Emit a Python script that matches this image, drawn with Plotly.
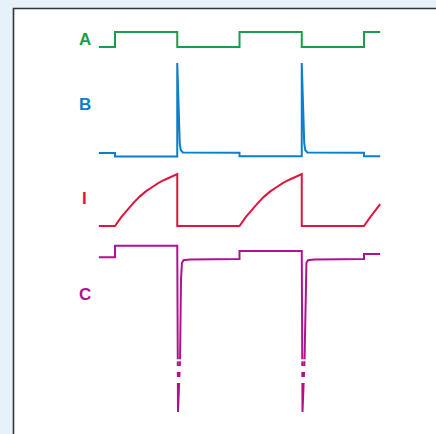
import plotly.graph_objects as go

# ---- time axis: one unit = half a period of the square drive A ----
# ---- A: square drive (hv steps) ----
t_a = [-0.26, 0, 1, 2, 3, 4, 4.26]
a_vals = [0, 1, 0, 1, 0, 1, 1]

# ---- B: small offset steps plus a sharp spike at each falling edge of A ----
t_b = [-0.26, 0, 0, 1, 1, 1.016, 1.032, 1.04, 1.056, 1.09, 2, 2, 3, 3,
       3.016, 3.032, 3.04, 3.056, 3.09, 4, 4, 4.26]
b_vals = [0, 0, -0.039, -0.039, 1.0, 0.64, 0.31, 0.11, 0.033, 0.006, 0.004,
          -0.036, -0.036, 1.0, 0.64, 0.31, 0.11, 0.033, 0.006, 0.003, -0.035, -0.035]

# ---- I: charging curve while A is high, reset to zero at the falling edge ----
t_i = [-0.26, 0, 0.1, 0.2, 0.3, 0.4, 0.5, 0.6, 0.7, 0.8, 0.9, 1.0, 1.0,
       2, 2.1, 2.2, 2.3, 2.4, 2.5, 2.6, 2.7, 2.8, 2.9, 3.0, 3.0,
       4, 4.1, 4.2, 4.26]
i_vals = [0, 0, 0.17, 0.32, 0.45, 0.57, 0.67, 0.75, 0.83, 0.89, 0.95, 1.0, 0,
          0, 0.17, 0.32, 0.45, 0.57, 0.67, 0.75, 0.83, 0.89, 0.95, 1.0, 0,
          0, 0.17, 0.32, 0.42]

# ---- C: adapting plateau with a large negative spike at each falling edge ----
t_c = [-0.26, 0, 0, 1, 1.012, 1.045, 1.06, 1.075, 1.1, 1.2, 2, 2, 3,
       3.012, 3.045, 3.06, 3.075, 3.1, 3.2, 4, 4, 4.26]
c_vals = [0.07, 0.07, 1.23, 1.23, -15.4, -10.2, -2.2, -0.5, -0.22, -0.15, -0.1,
          0.7, 0.7, -15.4, -10.2, -2.2, -0.5, -0.22, -0.15, -0.1, 0.4, 0.4]

labels = ["A", "B", "I", "C"]
colors = ["#1b9e4b", "#0b7fc7", "#e0143c", "#b0128c"]

W, H = 436, 434

# x axis: first rising edge at 115 px, 62.25 px per unit
X0_PX, X_SCALE = 115, 62.25
x_range = [-X0_PX / X_SCALE, (W - X0_PX) / X_SCALE]

# per-trace vertical placement: (pixel of value 0, pixels per unit)
placement = {"A": (47, 15), "B": (153, 90), "I": (226, 52), "C": (258, 10)}


def y_range(p0, s):
    top = p0 / s
    return [top - H / s, top]


fig = go.Figure()
series = {
    "A": (t_a, a_vals, "hv"),
    "B": (t_b, b_vals, "linear"),
    "I": (t_i, i_vals, "linear"),
    "C": (t_c, c_vals, "linear"),
}
for k, (name, color) in enumerate(zip(labels, colors), start=1):
    tx, ty, shape = series[name]
    fig.add_trace(go.Scatter(
        x=tx, y=ty, mode="lines", name=name,
        line=dict(color=color, width=2, shape=shape),
        yaxis="y" if k == 1 else f"y{k}",
        hoverinfo="skip", showlegend=False,
    ))

axis_common = dict(visible=False, showgrid=False, zeroline=False, fixedrange=True)
layout_axes = {}
for k, name in enumerate(labels, start=1):
    key = "yaxis" if k == 1 else f"yaxis{k}"
    ax = dict(axis_common, range=y_range(*placement[name]), domain=[0, 1])
    if k > 1:
        ax["overlaying"] = "y"
    layout_axes[key] = ax

# label positions in pixels
label_px = {"A": (84.5, 39), "B": (85, 104.5), "I": (84.5, 198), "C": (85, 294)}
annotations = []
for name, color in zip(labels, colors):
    px, py = label_px[name]
    annotations.append(dict(
        x=px / W, y=1 - py / H, xref="paper", yref="paper",
        text=f"<b>{name}</b>", showarrow=False,
        xanchor="center", yanchor="middle",
        font=dict(family="Liberation Sans, Arial, sans-serif", size=17, color=color),
    ))

shapes = [
    # white panel with dark frame
    dict(type="rect", xref="paper", yref="paper",
         x0=13.5 / W, x1=1.2, y0=-0.2, y1=1 - 8.5 / H,
         fillcolor="white", line=dict(color="#333333", width=1.6), layer="below"),
]
# break marks across the truncated C spikes (in C units)
for edge in [1, 3]:
    for y_lo, y_hi in [(-10.33, -10.13), (-11.4, -10.8), (-12.5, -11.9)]:
        shapes.append(dict(
            type="rect", xref="x", yref="y4",
            x0=edge - 0.06, x1=edge + 0.12, y0=y_lo, y1=y_hi,
            fillcolor="white", line=dict(width=0), layer="above",
        ))

fig.update_layout(
    width=W, height=H,
    margin=dict(l=0, r=0, t=0, b=0),
    paper_bgcolor="#e6f1fa",
    plot_bgcolor="rgba(0,0,0,0)",
    xaxis=dict(axis_common, range=x_range),
    annotations=annotations,
    shapes=shapes,
    **layout_axes,
)

fig.write_html("out.html", config={"displayModeBar": False})
